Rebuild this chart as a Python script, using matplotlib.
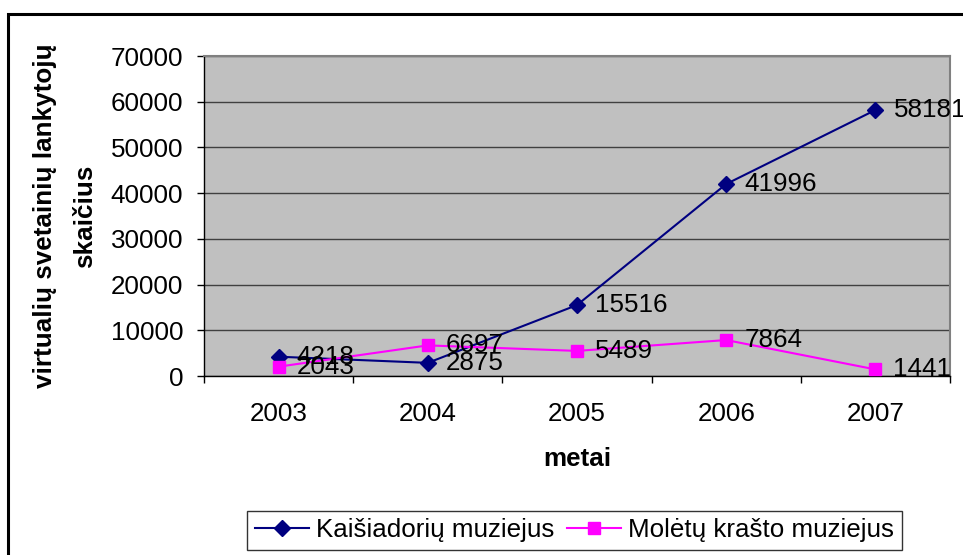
import matplotlib
matplotlib.use("Agg")
import matplotlib.pyplot as plt
from matplotlib.patches import Rectangle
from matplotlib.lines import Line2D

plt.rcParams['font.family'] = ['Liberation Sans', 'DejaVu Sans']

years = ['2003', '2004', '2005', '2006', '2007']
kaisiadoriu = [4218, 2875, 15516, 41996, 58181]
moletu = [2043, 6697, 5489, 7864, 1441]
series_names = ['Kaišiadorių muziejus', 'Molėtų krašto muziejus']
y_ticks = [0, 10000, 20000, 30000, 40000, 50000, 60000, 70000]

W, H = 963, 555
fig = plt.figure(figsize=(W / 100, H / 100), dpi=100)
fig.patch.set_facecolor('white')

# outer chart border (extends past the crop at right and bottom)
fig.patches.append(Rectangle((8 / W, -0.05), 1.1, (H - 14) / H + 0.05,
                             transform=fig.transFigure, fill=False,
                             edgecolor='black', linewidth=2.2))

ax = fig.add_axes([204 / W, (H - 376) / H, 746 / W, 320 / H])
ax.set_facecolor('#C0C0C0')

x = list(range(len(years)))
fs = 18.7
ax.plot(x, kaisiadoriu, color='#000080', marker='D', markersize=8,
        linewidth=1.5, label=series_names[0], clip_on=False, zorder=3)
ax.plot(x, moletu, color='#FF00FF', marker='s', markersize=9,
        linewidth=1.5, label=series_names[1], clip_on=False, zorder=3)

for xi, v in zip(x, kaisiadoriu):
    ax.annotate(str(v), (xi, v), xytext=(13, 0), textcoords='offset points',
                va='center', ha='left', fontsize=fs, color='black', zorder=4,
                annotation_clip=False)
for xi, v in zip(x, moletu):
    ax.annotate(str(v), (xi, v), xytext=(13, 0), textcoords='offset points',
                va='center', ha='left', fontsize=fs, color='black', zorder=4,
                annotation_clip=False)

ax.set_xlim(-0.5, len(years) - 0.5)
ax.set_ylim(0, 70000)
ax.set_yticks(y_ticks)
ax.set_yticklabels([str(t) for t in y_ticks], fontsize=fs)
ax.grid(axis='y', color='#404040', linewidth=1.0, zorder=1)
ax.set_axisbelow(True)

ax.set_xticks([i - 0.5 for i in range(len(years) + 1)])
ax.set_xticklabels([])
ax.set_xticks(x, minor=True)
ax.set_xticklabels(years, minor=True, fontsize=fs)
ax.tick_params(axis='x', which='major', direction='out', length=5, width=1, color='black')
ax.tick_params(axis='x', which='minor', length=0, pad=19)
ax.tick_params(axis='y', direction='out', length=5, width=1, pad=10, color='black')

for s in ['top', 'right']:
    ax.spines[s].set_color('#808080')
    ax.spines[s].set_linewidth(1.5)
for s in ['left', 'bottom']:
    ax.spines[s].set_color('black')
    ax.spines[s].set_linewidth(1.0)

ax.set_xlabel('metai', fontsize=fs, fontweight='bold', labelpad=15)
ax.set_ylabel('virtualių svetainių lankytojų\nskaičius', fontsize=fs,
              fontweight='bold', labelpad=10, linespacing=1.85)

handles = [Line2D([], [], color='#000080', marker='D', markersize=8, linewidth=1.5),
           Line2D([], [], color='#FF00FF', marker='s', markersize=9, linewidth=1.5)]
leg = fig.legend(handles, series_names, loc='center',
                 bbox_to_anchor=(574.5 / W, 1 - 530.5 / H), ncol=2,
                 fontsize=fs, frameon=True, fancybox=False, handlelength=2.1,
                 handletextpad=0.27, columnspacing=0.46, borderpad=0.3,
                 borderaxespad=0)
leg.get_frame().set_edgecolor('black')
leg.get_frame().set_linewidth(1.0)

fig.savefig('out.png', dpi=100)
